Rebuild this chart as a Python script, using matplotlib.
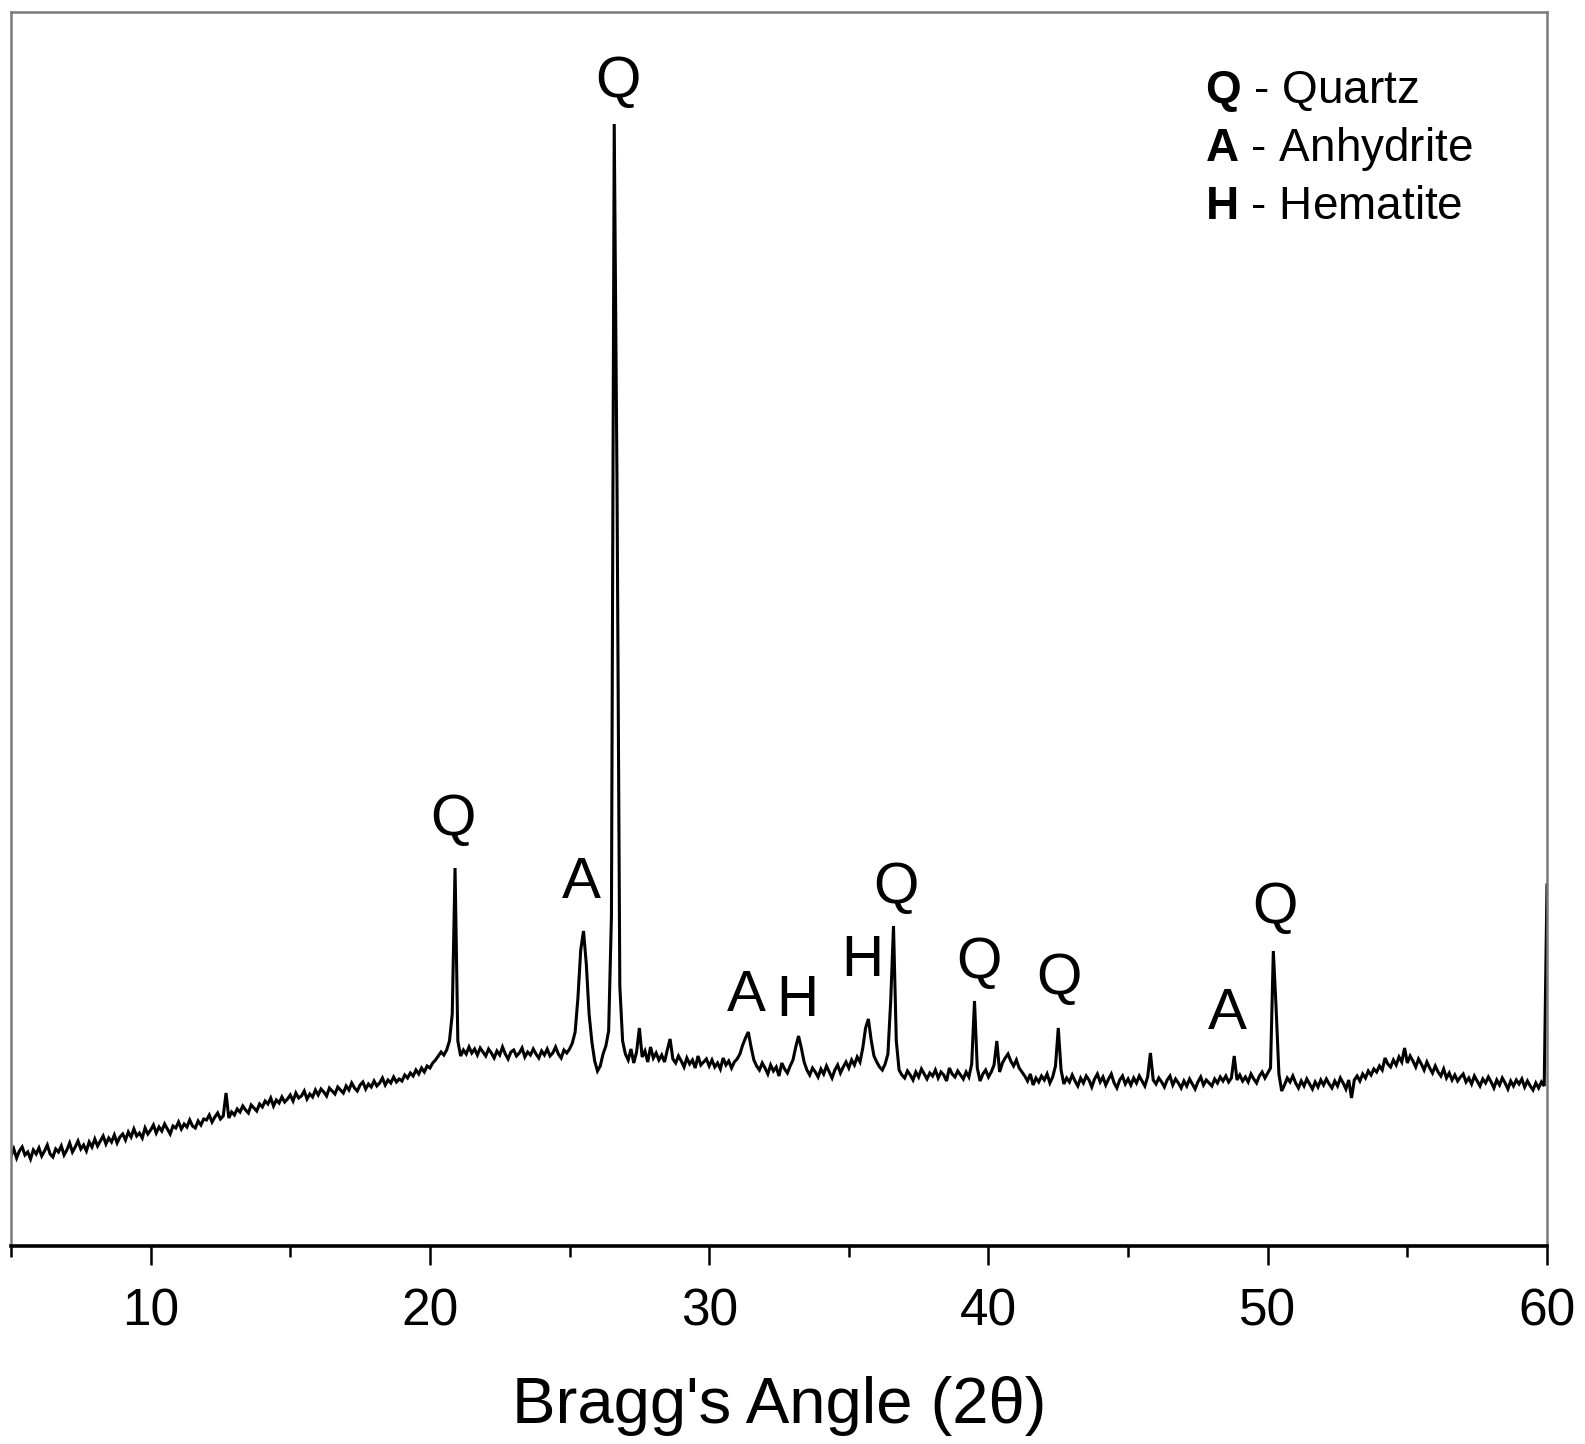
import matplotlib
matplotlib.use("Agg")
import matplotlib.pyplot as plt
import numpy as np

plt.rcParams["font.family"] = ["Liberation Sans", "DejaVu Sans"]
plt.rcParams["mathtext.fontset"] = "custom"
plt.rcParams["mathtext.rm"] = "Liberation Sans"
plt.rcParams["mathtext.bf"] = "Liberation Sans:bold"

# scan: 5.0 - 60.0 deg 2theta, 0.1 deg step (counts, arb. units)
SCAN_START, SCAN_STEP = 5.0, 0.1

counts_05 = [90, 97, 88, 95, 99, 91, 94, 87, 96, 92,
             98, 90, 95, 101, 92, 89, 97, 94, 100, 91,
             96, 103, 94, 99, 105, 97, 101, 95, 104, 99,
             107, 100, 105, 110, 102, 108, 104, 111, 103, 109,
             112, 106, 114, 109, 117, 110, 113, 108, 118, 112]
counts_10 = [116, 121, 113, 119, 115, 122, 117, 112, 120, 118,
             124, 117, 122, 119, 126, 120, 118, 125, 121, 127,
             126, 131, 124, 129, 133, 127, 130, 153, 128, 134,
             131, 137, 134, 140, 136, 133, 141, 138, 135, 142,
             139, 145, 142, 148, 140, 146, 143, 149, 144, 147]
counts_15 = [151, 145, 153, 148, 150, 155, 147, 152, 149, 156,
             151, 157, 154, 150, 158, 155, 152, 159, 156, 153,
             160, 156, 163, 158, 155, 161, 164, 157, 162, 159,
             165, 160, 163, 168, 161, 166, 163, 169, 164, 167,
             165, 171, 168, 173, 170, 176, 172, 178, 174, 180]
counts_20 = [178, 183, 186, 190, 194, 191, 196, 205, 232, 378,
             205, 190, 196, 192, 199, 193, 197, 191, 198, 194,
             190, 197, 193, 188, 195, 191, 199, 192, 187, 194,
             196, 190, 193, 198, 189, 194, 191, 197, 192, 188,
             195, 191, 197, 190, 193, 199, 192, 188, 196, 193]
counts_25 = [197, 203, 214, 248, 296, 315, 282, 232, 204, 185,
             175, 180, 192, 200, 215, 330, 1122, 760, 260, 205,
             192, 186, 197, 183, 194, 218, 189, 195, 184, 199,
             188, 193, 186, 191, 184, 196, 207, 187, 183, 190,
             185, 179, 188, 182, 186, 178, 190, 181, 184, 187]
counts_30 = [180, 186, 179, 183, 177, 188, 181, 185, 178, 184,
             187, 192, 201, 208, 214, 199, 186, 180, 176, 183,
             178, 172, 181, 175, 179, 170, 183, 177, 173, 180,
             186, 199, 210, 198, 184, 176, 171, 178, 174, 169,
             177, 172, 180, 174, 168, 176, 181, 173, 179, 184]
counts_35 = [178, 186, 181, 189, 184, 198, 218, 227, 206, 190,
             184, 179, 176, 182, 192, 245, 320, 205, 176, 171,
             168, 175, 171, 166, 174, 169, 177, 172, 167, 173,
             170, 176, 168, 174, 171, 165, 178, 172, 169, 175,
             171, 167, 174, 169, 182, 245, 178, 165, 172, 176]
counts_40 = [169, 174, 181, 205, 174, 183, 188, 192, 185, 180,
             186, 178, 174, 170, 165, 172, 161, 168, 164, 170,
             166, 172, 163, 169, 180, 218, 176, 162, 168, 164,
             171, 165, 160, 168, 163, 170, 166, 159, 167, 172,
             164, 169, 161, 167, 172, 163, 158, 166, 170, 162]
counts_45 = [167, 161, 168, 163, 170, 165, 160, 169, 193, 166,
             162, 168, 164, 159, 166, 170, 161, 167, 163, 158,
             165, 160, 167, 162, 157, 164, 169, 161, 166, 163,
             160, 167, 163, 169, 165, 170, 164, 168, 190, 166,
             171, 165, 169, 164, 172, 167, 163, 170, 174, 168]
counts_50 = [173, 178, 295, 238, 172, 155, 161, 168, 164, 170,
             163, 158, 165, 160, 167, 162, 157, 164, 159, 166,
             161, 167, 162, 158, 165, 160, 168, 163, 157, 166,
             148, 166, 170, 165, 172, 168, 175, 171, 177, 174,
             180, 176, 188, 182, 179, 186, 181, 189, 184, 198]
counts_55 = [183, 190, 185, 179, 187, 182, 176, 184, 178, 173,
             180, 174, 170, 177, 168, 173, 166, 171, 165, 169,
             172, 164, 168, 162, 170, 165, 160, 167, 163, 169,
             164, 158, 166, 161, 168, 163, 157, 165, 160, 166,
             162, 167, 159, 165, 160, 156, 163, 158, 164, 160]
counts_60 = [361]

# peak labels: (letter, 2theta, height of label centre)
peak_letters = ["Q", "A", "Q", "A", "H", "H", "Q", "Q", "Q", "A", "Q"]
peak_pos = [20.84, 25.43, 26.72, 31.34, 33.17, 35.5, 36.68, 39.66, 42.53, 48.55, 50.27]
peak_lab_y = [426, 363, 1164, 250, 245, 285, 358, 283, 267, 232, 338]

legend_keys = ["Q", "A", "H"]
legend_names = ["Quartz", "Anhydrite", "Hematite"]

counts = np.array(counts_05 + counts_10 + counts_15 + counts_20 + counts_25 + counts_30
                  + counts_35 + counts_40 + counts_45 + counts_50 + counts_55 + counts_60)
two_theta = SCAN_START + SCAN_STEP * np.arange(len(counts))

fig = plt.figure(figsize=(15.85, 14.44), dpi=100)
ax = fig.add_axes([11 / 1585, 1 - 1246 / 1444, 1536 / 1585, 1234 / 1444])
ax.plot(two_theta, counts, color="black", lw=2.2, solid_joinstyle="miter")

ax.set_xlim(5, 60)
ax.set_ylim(0, 1234)
ax.set_xticks(np.arange(10, 61, 10))
ax.set_xticks(np.arange(5, 60, 10), minor=True)
ax.set_yticks([])
ax.tick_params(axis="x", which="major", direction="out", length=14, width=1.8,
               labelsize=37, pad=16, color="black")
ax.tick_params(axis="x", which="minor", direction="out", length=8, width=1.8, color="black")
for side in ("left", "top", "right"):
    ax.spines[side].set_color("#7a7a7a")
    ax.spines[side].set_linewidth(1.8)
ax.spines["bottom"].set_color("black")
ax.spines["bottom"].set_linewidth(2.6)
ax.set_xlabel("Bragg's Angle (2θ)", fontsize=47, labelpad=28)

for lab, px, py in zip(peak_letters, peak_pos, peak_lab_y):
    ax.text(px, py, lab, fontsize=42, ha="center", va="center")

for i, (k, name) in enumerate(zip(legend_keys, legend_names)):
    fig.text(1205 / 1585, 1 - (91 + 58 * i) / 1444, rf"$\mathbf{{{k}}}$ - {name}",
             fontsize=33, ha="left", va="center")

fig.savefig("out.png", dpi=100, facecolor="white")
